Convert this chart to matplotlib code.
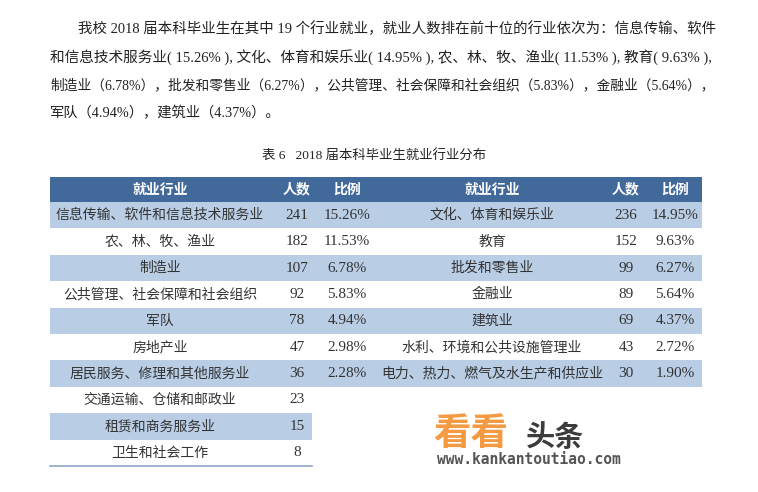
import matplotlib.pyplot as plt
from matplotlib.patches import Rectangle

# Данные таблицы
left_names = ['信息传输、软件和信息技术服务业', '农、林、牧、渔业', '制造业',
              '公共管理、社会保障和社会组织', '军队', '房地产业',
              '居民服务、修理和其他服务业', '交通运输、仓储和邮政业',
              '租赁和商务服务业', '卫生和社会工作']
left_counts = [241, 182, 107, 92, 78, 47, 36, 23, 15, 8]
left_pct = [15.26, 11.53, 6.78, 5.83, 4.94, 2.98, 2.28]

right_names = ['文化、体育和娱乐业', '教育', '批发和零售业', '金融业', '建筑业',
               '水利、环境和公共设施管理业', '电力、热力、燃气及水生产和供应业']
right_counts = [236, 152, 99, 89, 69, 43, 30]
right_pct = [14.95, 9.63, 6.27, 5.64, 4.37, 2.72, 1.90]

headers = ['就业行业', '人数', '比例']

para_lines = [
    '我校 2018 届本科毕业生在其中 19 个行业就业，就业人数排在前十位的行业依次为：信息传输、软件',
    '和信息技术服务业( 15.26% ), 文化、体育和娱乐业( 14.95% ), 农、林、牧、渔业( 11.53% ), 教育( 9.63% ),',
    '制造业（6.78%），批发和零售业（6.27%），公共管理、社会保障和社会组织（5.83%），金融业（5.64%），',
    '军队（4.94%），建筑业（4.37%）。',
]
caption = '表 6   2018 届本科毕业生就业行业分布'

MIX = ['Liberation Serif', 'Noto Sans CJK SC']
CJK = ['Noto Sans CJK SC', 'DejaVu Sans']
SERIF = ['Liberation Serif']

fig = plt.figure(figsize=(7.58, 4.92), dpi=100)
ax = fig.add_axes([0, 0, 1, 1])
ax.set_xlim(0, 758)
ax.set_ylim(492, 0)
ax.axis('off')

# Абзац текста (выравнивание по ширине через подбор размера)
fig.canvas.draw()
renderer = fig.canvas.get_renderer()
line_y = [29, 57, 85, 113]
line_x = [78, 50, 50, 50]
for k, s in enumerate(para_lines):
    t = ax.text(line_x[k], line_y[k], s, fontsize=10.3, family=MIX,
                color='#222222', va='center', ha='left')
    if k < 3:
        bb = t.get_window_extent(renderer)
        t.set_fontsize(10.3 * (712 - line_x[k]) / bb.width)

ax.text(374, 155, caption, fontsize=9.6, family=MIX, color='#222222',
        ha='center', va='center')

# Геометрия таблицы
x0, x1 = 50, 702
head_top, head_h = 177, 25
row_h = 26.4
dark = '#41699a'
light = '#b9cde5'
col_left = [160, 297, 347]
col_right = [492, 626, 675]
short_right = 312

ax.add_patch(Rectangle((x0, head_top), x1 - x0, head_h, color=dark, lw=0))
for cx, h in zip(col_left + col_right, headers + headers):
    ax.text(cx, head_top + head_h / 2, h, fontsize=10, family=CJK,
            fontweight='bold', color='white', ha='center', va='center')

top = head_top + head_h
for i, name in enumerate(left_names):
    y = top + i * row_h
    yc = y + row_h / 2
    full = i < len(right_names)
    if i % 2 == 0:
        w = (x1 - x0) if full else (short_right - x0)
        ax.add_patch(Rectangle((x0, y), w, row_h, color=light, lw=0))
    ax.text(col_left[0], yc, name, fontsize=10, family=CJK, color='#333333',
            ha='center', va='center')
    ax.text(col_left[1], yc, str(left_counts[i]), fontsize=11, family=SERIF,
            color='#333333', ha='center', va='center')
    if i < len(left_pct):
        ax.text(col_left[2], yc, f'{left_pct[i]:.2f}%', fontsize=11,
                family=SERIF, color='#333333', ha='center', va='center')
    if full:
        ax.text(col_right[0], yc, right_names[i], fontsize=10, family=CJK,
                color='#333333', ha='center', va='center')
        ax.text(col_right[1], yc, str(right_counts[i]), fontsize=11,
                family=SERIF, color='#333333', ha='center', va='center')
        ax.text(col_right[2], yc, f'{right_pct[i]:.2f}%', fontsize=11,
                family=SERIF, color='#333333', ha='center', va='center')

bottom = top + len(left_names) * row_h
ax.plot([x0, short_right], [bottom, bottom], color='#8da6c6', lw=1.2)

# Водяной знак
ax.text(433, 433, '看看', fontsize=27, family=CJK, fontweight='bold',
        color='#f39a42', ha='left', va='center')
ax.text(526, 437, '头条', fontsize=21, family=CJK, fontweight='bold',
        color='#3c3c3c', ha='left', va='center')
ax.text(437, 459, 'www.kankantoutiao.com', fontsize=10.5, family='DejaVu Sans Mono',
        fontweight='bold', color='#555555', ha='left', va='center')

fig.savefig('out.png', dpi=100)
